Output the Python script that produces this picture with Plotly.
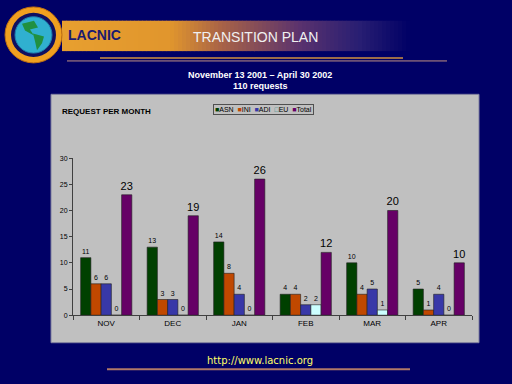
import plotly.graph_objects as go

months = ["NOV", "DEC", "JAN", "FEB", "MAR", "APR"]
series_names = ["ASN", "INI", "ADI", "EU", "Total"]
asn = [11, 13, 14, 4, 10, 5]
ini = [6, 3, 8, 4, 4, 1]
adi = [6, 3, 4, 2, 5, 4]
eu = [0, 0, 0, 2, 1, 0]
total = [23, 19, 26, 12, 20, 10]
y_ticks = [0, 5, 10, 15, 20, 25, 30]

colors = ["#004000", "#C04800", "#3838A8", "#CCFFFF", "#660066"]
values = [asn, ini, adi, eu, total]

W, H = 512, 384
BG = "#000066"
PANEL = "#C0C0C0"

def px(x):
    return x / W

def py(y):
    return 1 - y / H

fig = go.Figure()
for name, vals, col in zip(series_names, values, colors):
    big = name == "Total"
    fig.add_trace(go.Bar(
        x=months, y=vals, name=name,
        marker=dict(color=col, line=dict(color="#202020", width=0.6)),
        text=[str(v) for v in vals], textposition="outside",
        textfont=dict(family="Liberation Sans, Arial, sans-serif",
                      size=11 if big else 7, color="black"),
        constraintext="none", cliponaxis=False, showlegend=False,
        hoverinfo="skip",
    ))

shapes = []
# grey chart panel
shapes.append(dict(type="rect", xref="paper", yref="paper", layer="below",
                   x0=px(51), x1=px(479), y0=py(345), y1=py(92),
                   fillcolor=PANEL, line=dict(color="#8080A0", width=1)))
# banner gradient
stops = [(62, (232, 160, 48)), (170, (225, 150, 45)), (220, (170, 100, 70)),
         (300, (90, 50, 110)), (360, (40, 30, 115)), (410, (0, 0, 102))]
def interp(x):
    for (x0, c0), (x1, c1) in zip(stops[:-1], stops[1:]):
        if x0 <= x <= x1:
            t = (x - x0) / (x1 - x0)
            return tuple(int(a + (b - a) * t) for a, b in zip(c0, c1))
    return stops[-1][1]
step = 4
for x in range(62, 410, step):
    c = interp(x + step / 2)
    shapes.append(dict(type="rect", xref="paper", yref="paper", layer="below",
                       x0=px(x), x1=px(x + step + 0.5), y0=py(48), y1=py(17),
                       fillcolor="rgb(%d,%d,%d)" % c, line=dict(width=0)))
# logo
shapes.append(dict(type="circle", xref="paper", yref="paper",
                   x0=px(5), x1=px(62), y0=py(60), y1=py(3),
                   fillcolor="#F0A020", line=dict(color="#C07010", width=1)))
shapes.append(dict(type="circle", xref="paper", yref="paper",
                   x0=px(11), x1=px(56), y0=py(54), y1=py(9),
                   fillcolor="#101060", line=dict(width=0)))
shapes.append(dict(type="circle", xref="paper", yref="paper",
                   x0=px(15), x1=px(52), y0=py(50), y1=py(13),
                   fillcolor="#30B0D0", line=dict(color="#2080B0", width=1)))
shapes.append(dict(type="path", xref="paper", yref="paper",
                   path="M %f,%f L %f,%f L %f,%f L %f,%f L %f,%f L %f,%f Z" % (
                       px(22), py(20), px(34), py(17), px(38), py(24),
                       px(30), py(26), px(34), py(32), px(25), py(27)),
                   fillcolor="#209040", line=dict(width=0)))
shapes.append(dict(type="path", xref="paper", yref="paper",
                   path="M %f,%f L %f,%f L %f,%f L %f,%f L %f,%f Z" % (
                       px(33), py(30), px(44), py(33), px(42), py(40),
                       px(37), py(47), px(35), py(38)),
                   fillcolor="#209040", line=dict(width=0)))
# decorative lines
shapes.append(dict(type="line", xref="paper", yref="paper",
                   x0=px(100), x1=px(403), y0=py(55), y1=py(55),
                   line=dict(color="#D09040", width=1.5)))
shapes.append(dict(type="line", xref="paper", yref="paper",
                   x0=px(67), x1=px(447), y0=py(58), y1=py(58),
                   line=dict(color="#C09080", width=1)))
shapes.append(dict(type="line", xref="paper", yref="paper",
                   x0=px(107), x1=px(410), y0=py(372), y1=py(372),
                   line=dict(color="#B07868", width=2)))

def swatch(c, n):
    if n == "EU":
        return '<span style="color:%s">□</span>%s' % ("#208080", n)
    return '<span style="color:%s">■</span>%s' % (c, n)

leg_html = "&nbsp;&nbsp;".join(swatch(c, n) for c, n in zip(colors, series_names))

annotations = [
    dict(text="<b>LACNIC</b>", x=px(66), y=py(32), xanchor="left", yanchor="middle",
         font=dict(family="Liberation Sans Narrow, Arial Narrow, sans-serif",
                   size=14, color="#1A1A70")),
    dict(text="TRANSITION PLAN", x=px(255), y=py(34), xanchor="center", yanchor="middle",
         font=dict(family="Liberation Sans, Arial, sans-serif", size=14, color="#F0F0F0")),
    dict(text="<b>November 13 2001 – April 30 2002</b>", x=px(260), y=py(72),
         xanchor="center", yanchor="middle",
         font=dict(family="Liberation Sans, Arial, sans-serif", size=9, color="white")),
    dict(text="<b>110 requests</b>", x=px(260), y=py(84),
         xanchor="center", yanchor="middle",
         font=dict(family="Liberation Sans, Arial, sans-serif", size=9, color="white")),
    dict(text="<b>REQUEST PER MONTH</b>", x=px(60), y=py(110), xanchor="left", yanchor="middle",
         font=dict(family="Liberation Sans, Arial, sans-serif", size=8, color="black")),
    dict(text=leg_html, x=px(213), y=py(102), xanchor="left", yanchor="top",
         bordercolor="#505050", borderwidth=1, borderpad=1, bgcolor=PANEL,
         font=dict(family="Liberation Sans, Arial, sans-serif", size=7, color="black")),
    dict(text="http://www.lacnic.org", x=px(260), y=py(363), xanchor="center", yanchor="middle",
         font=dict(family="DejaVu Sans, Verdana, sans-serif", size=10, color="#FFFF66")),
]
for a in annotations:
    a.update(xref="paper", yref="paper", showarrow=False)

fig.update_layout(
    width=W, height=H, margin=dict(l=0, r=0, t=0, b=0),
    paper_bgcolor=BG, plot_bgcolor=PANEL, hovermode=False,
    barmode="group", bargap=0.23, bargroupgap=0,
    shapes=shapes, annotations=annotations,
    xaxis=dict(domain=[px(73), px(472)], showgrid=False, showline=True,
               linecolor="#404040", linewidth=1, ticks="outside", tickson="boundaries",
               ticklen=4, tickcolor="#404040", fixedrange=True,
               tickfont=dict(family="Liberation Sans, Arial, sans-serif", size=8, color="black")),
    yaxis=dict(domain=[py(317), py(157)], range=[0, 30], tickvals=y_ticks,
               showgrid=False, showline=True, linecolor="#404040", linewidth=1,
               ticks="outside", ticklen=3, tickcolor="#404040", zeroline=False, fixedrange=True,
               tickfont=dict(family="Liberation Sans, Arial, sans-serif", size=7, color="black")),
)

fig.write_html("out.html", config={"displayModeBar": False, "staticPlot": True},
               post_script="document.body.style.margin='0';document.body.style.background='%s';" % BG)
